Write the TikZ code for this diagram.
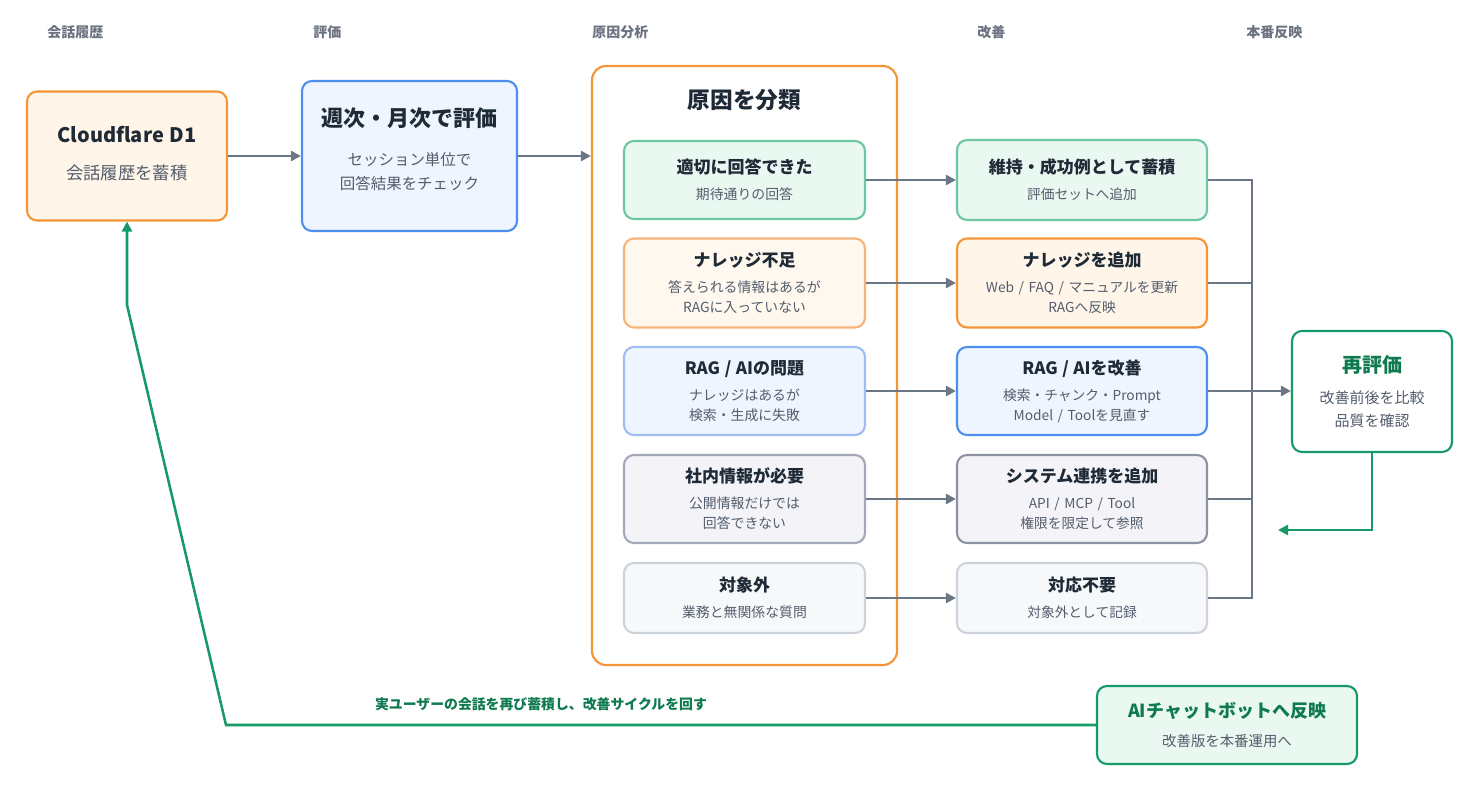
\documentclass[tikz,border=0pt]{standalone}
\usepackage{fontspec}
\setmainfont{Noto Sans CJK JP}
\usetikzlibrary{arrows.meta}
\definecolor{ink}{HTML}{1F2A37}
\definecolor{muted}{HTML}{535D6C}
\definecolor{headgray}{HTML}{6B7280}
\definecolor{wire}{HTML}{6B7784}
\definecolor{orng}{HTML}{F5953A}
\definecolor{orngfill}{HTML}{FFF5E8}
\definecolor{orngsoft}{HTML}{F6B47A}
\definecolor{orngpale}{HTML}{FFF8EF}
\definecolor{blu}{HTML}{4D8EEE}
\definecolor{blufill}{HTML}{EFF5FF}
\definecolor{blusoft}{HTML}{9CBEF2}
\definecolor{mint}{HTML}{6CC7A0}
\definecolor{mintfill}{HTML}{E9F8F1}
\definecolor{slate}{HTML}{A3A8B8}
\definecolor{slatedark}{HTML}{8C92A2}
\definecolor{slatefill}{HTML}{F4F4F8}
\definecolor{mist}{HTML}{CDD3DB}
\definecolor{mistfill}{HTML}{F7F8FA}
\definecolor{grn}{HTML}{169A68}
\definecolor{grndark}{HTML}{0F7A50}
\newcommand{\ctitle}[1]{{\fontsize{12.75}{15}\selectfont\bfseries\color{ink}#1}\\[4.5pt]}

\begin{document}
\begin{tikzpicture}[x=.75pt,y=-.75pt,
    box/.style={draw, rounded corners=7.5pt, line width=1.6pt, inner sep=0pt, align=center, text=muted},
    cause/.style={box, minimum width=180.75pt, text width=175pt, font=\fontsize{10.4}{15}\selectfont},
    fix/.style={box, minimum width=187.5pt, text width=180pt, font=\fontsize{10.3}{15}\selectfont},
    flow/.style={draw=wire, line width=1.9pt, -{Triangle[length=7.5pt,width=7.5pt]}},
    link/.style={draw=wire, line width=1.9pt},
    back/.style={draw=grn, line width=1.9pt, -{Triangle[length=7.5pt,width=7.5pt]}},
    head/.style={anchor=west, inner sep=0pt, text=headgray, font=\fontsize{10.5}{12}\selectfont\bfseries}]
      \useasboundingbox (0,0) rectangle (1473,791);
          %% column headings
      \node (h1) at (47,32) [head] {会話履歴};
      \node (h2) at (313,32) [head] {評価};
      \node (h3) at (592,32) [head] {原因分析};
      \node (h4) at (977,32) [head] {改善};
      \node (h5) at (1246,32) [head] {本番反映};

      \node (d1) at (127,156) [box, draw=orng, fill=orngfill, minimum width=150pt, minimum height=96.75pt,
        text width=140pt, font=\fontsize{13}{18}\selectfont]
        {{\fontsize{15}{18}\selectfont\bfseries\color{ink}Cloudflare D1}\\[10pt]会話履歴を蓄積\par\vspace{4pt}};
      \node (eval) at (409.5,156) [box, draw=blu, fill=blufill, minimum width=161.25pt, minimum height=112.5pt,
        text width=155pt, font=\fontsize{11.6}{18}\selectfont]
        {{\fontsize{16.5}{18}\selectfont\bfseries\color{ink}週次・月次で評価}\\[11pt]セッション単位で\\回答結果をチェック\par\vspace{10.5pt}};

          %% the big box with the five causes
      \node (sort) at (744.5,365.5) [draw=orng, line width=1.6pt, rounded corners=10.5pt,
        minimum width=228.75pt, minimum height=449.25pt, inner sep=0pt] {};
      \node (sorttitle) at (744.5,100) [text=ink, font=\fontsize{17}{20}\selectfont\bfseries] {原因を分類};
      \node (c1) at (744.5,180) [cause, draw=mint, fill=mintfill, minimum height=58.5pt]
        {\ctitle{適切に回答できた}期待通りの回答};
      \node (c2) at (744.5,283) [cause, draw=orngsoft, fill=orngpale, minimum height=66.75pt]
        {\ctitle{ナレッジ不足}答えられる情報はあるが\\RAGに入っていない};
      \node (c3) at (744.5,391) [cause, draw=blusoft, fill=blufill, minimum height=66pt]
        {\ctitle{RAG / AIの問題}ナレッジはあるが\\検索・生成に失敗};
      \node (c4) at (744.5,499) [cause, draw=slate, fill=slatefill, minimum height=66pt]
        {\ctitle{社内情報が必要}公開情報だけでは\\回答できない};
      \node (c5) at (744.5,598) [cause, draw=mist, fill=mistfill, minimum height=52.5pt]
        {\ctitle{対象外}業務と無関係な質問};

          %% fixes
      \node (f1) at (1082,180) [fix, draw=mint, fill=mintfill, minimum height=60pt]
        {\ctitle{維持・成功例として蓄積}評価セットへ追加};
      \node (f2) at (1082,283) [fix, draw=orng, fill=orngfill, minimum height=66.75pt]
        {\ctitle{ナレッジを追加}Web / FAQ / マニュアルを更新\\RAGへ反映};
      \node (f3) at (1082,391) [fix, draw=blu, fill=blufill, minimum height=66pt]
        {\ctitle{RAG / AIを改善}検索・チャンク・Prompt\\Model / Toolを見直す};
      \node (f4) at (1082,499) [fix, draw=slatedark, fill=slatefill, minimum height=66pt]
        {\ctitle{システム連携を追加}API / MCP / Tool\\権限を限定して参照};
      \node (f5) at (1082,598) [fix, draw=mist, fill=mistfill, minimum height=52.5pt]
        {\ctitle{対応不要}対象外として記録};

      \node (reeval) at (1372,391.5) [box, draw=grn, fill=white, minimum width=120pt, minimum height=90.75pt,
        text width=110pt, font=\fontsize{11.25}{17.25}\selectfont]
        {{\fontsize{15}{17}\selectfont\bfseries\color{grndark}再評価}\\[5.75pt]改善前後を比較\\品質を確認};
      \node (bot) at (1227,725) [box, draw=grn, fill=mintfill, minimum width=195pt, minimum height=58.5pt,
        text width=185pt, font=\fontsize{10.8}{16}\selectfont]
        {{\fontsize{13.5}{16}\selectfont\bfseries\color{grndark}AIチャットボットへ反映}\\[6pt]改善版を本番運用へ};
      \node (cyclenote) at (541,704) [text=grndark, font=\fontsize{10.4}{12}\selectfont\bfseries]
        {実ユーザーの会話を再び蓄積し、改善サイクルを回す};

          %% connectors
      \draw[flow] (d1) -- (eval);
      \draw[flow] (eval) -- (eval -| sort.west);
      \foreach \i in {1,...,5}
      { \draw[flow] (c\i) -- (f\i);}
      \coordinate (bus) at (1252,0);
      \draw[link] (f1.east) -- (f1 -| bus) -- (f5 -| bus) -- (f5.east);
      \foreach \i in {2,4}
      { \draw[link] (f\i.east) -- (f\i -| bus);}
      \draw[flow] (f3.east) -- (reeval.west |- f3);
      \coordinate (loopend) at (1278,530);
      \draw[back] (reeval.south) |- (loopend);
      \coordinate (k1) at (226,725);
      \coordinate (k2) at (127,305);
      \draw[back] (bot.west) -- (k1) -- (k2) -- (d1.south);
\end{tikzpicture}
\end{document}
